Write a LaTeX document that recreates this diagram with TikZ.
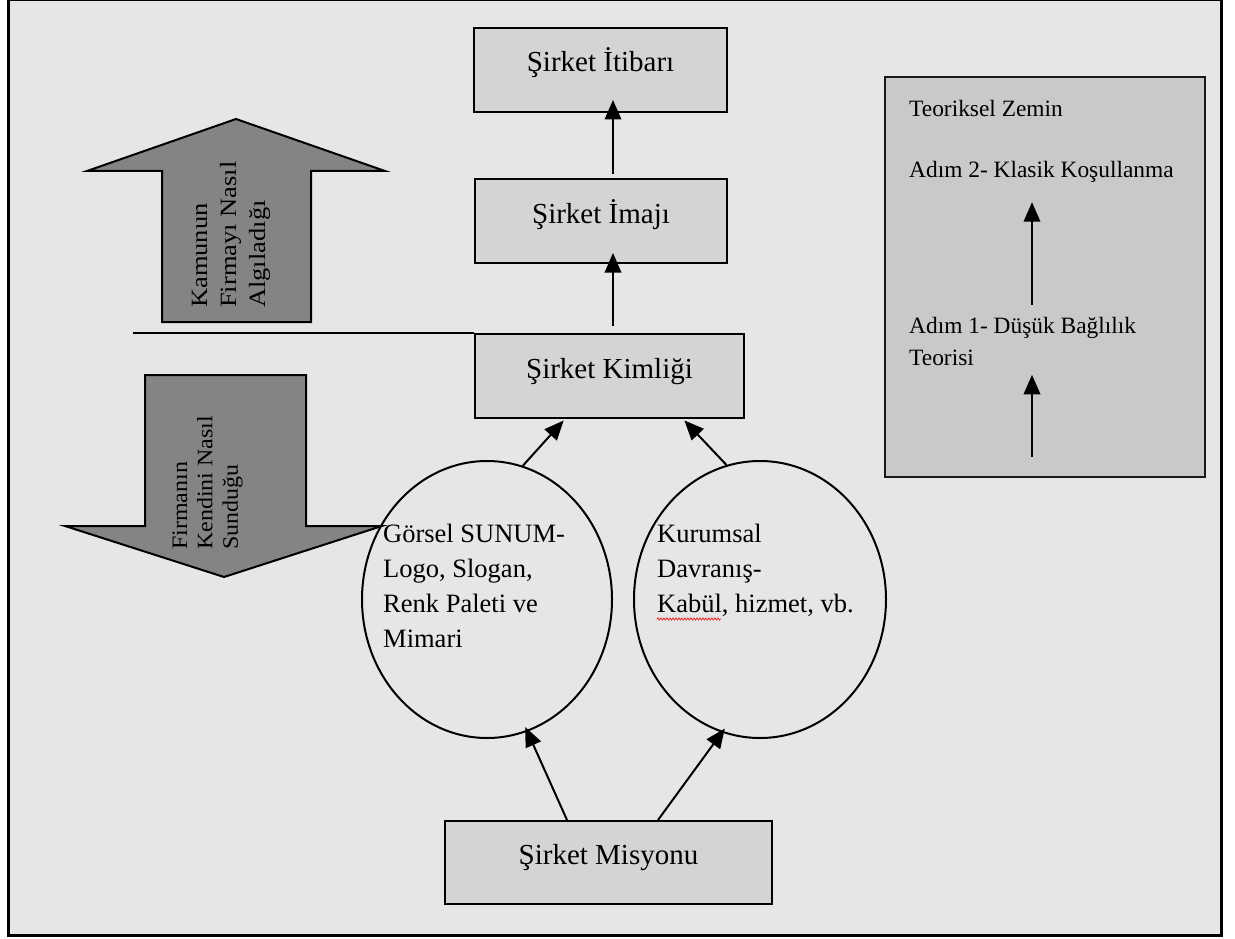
\documentclass[tikz,border=0pt]{standalone}
\usepackage{fontspec}
\setmainfont{Liberation Serif}
\usepackage{graphicx}
\usetikzlibrary{arrows.meta,shapes.geometric,calc,decorations.pathmorphing}

\definecolor{paper}{RGB}{230,230,230}
\definecolor{boxgray}{RGB}{212,212,212}
\definecolor{panelgray}{RGB}{201,201,201}
\definecolor{bigarrow}{RGB}{132,132,132}
\definecolor{spellred}{RGB}{225,40,40}

\begin{document}
\begin{tikzpicture}[x=1pt,y=-1pt,
  stagebox/.style={draw=black, line width=2pt, fill=boxgray, inner sep=0pt,
    text height=20pt, text depth=16pt, font=\fontsize{29}{35}\selectfont},
  oval/.style={draw=black, line width=2pt, ellipse, inner sep=0pt},
  link/.style={draw=black, line width=2pt, -{Triangle[width=16.5pt,length=19.5pt]}},
  blockarrow/.style={draw=black, line width=2pt, fill=bigarrow, line join=miter},
  label/.style={anchor=base west, inner sep=0pt},
  ovaltext/.style={label, font=\fontsize{26.5}{35}\selectfont},
  paneltext/.style={label, font=\fontsize{23.4}{32}\selectfont}
]
\useasboundingbox (0,0) rectangle (1235,939);
\fill[white] (0,0) rectangle (1235,939);

% framed background
\fill[paper] (8.5,0) rectangle (1221.5,935);
\draw[line width=3pt] (8.5,-0.5) rectangle (1221.5,935);

% broad arrows on the left
\draw[blockarrow] (236,119) -- (385,171) -- (311,171) -- (311,322) -- (162,322)
  -- (162,171) -- (87,171) -- cycle;
\draw[blockarrow] (145,375) -- (306,375) -- (306,526) -- (382,526) -- (224,577)
  -- (65,526) -- (145,526) -- cycle;

\node[rotate=90, label] (perceive) at (207,308)
  {\fontsize{26.5}{33}\selectfont\scalebox{1}[0.88]{\begin{tabular}[t]{@{}l@{}}Kamunun\\Firmayı Nasıl\\Algıladığı\end{tabular}}};
\node[rotate=90, label] (present) at (187,550)
  {\fontsize{24}{27.7}\selectfont\scalebox{1}[0.92]{\begin{tabular}[t]{@{}l@{}}Firmanın\\Kendini Nasıl\\Sunduğu\end{tabular}}};

% stages
\node[stagebox, minimum width=253pt, minimum height=84pt] (itibar) at (600.5,70) {Şirket İtibarı};
\node[stagebox, minimum width=252pt, minimum height=84pt] (imaj) at (601,221) {Şirket İmajı};
\node[stagebox, minimum width=269pt, minimum height=84pt] (kimlik) at (609.5,376) {Şirket Kimliği};
\node[stagebox, minimum width=327pt, minimum height=83pt] (misyon) at (608.5,862.5) {Şirket Misyonu};

% dividing line
\coordinate (divstart) at (133,333);
\draw[line width=2pt] (divstart) -- (divstart -| kimlik.north west);

% the two components
\node[oval, minimum width=250pt, minimum height=277pt] (visual) at (487,599.5) {};
\node[oval, minimum width=252pt, minimum height=277pt] (conduct) at (760,599.5) {};
\node[ovaltext] (visualtext) at (383,542)
  {\begin{tabular}[t]{@{}l@{}}Görsel SUNUM-\\Logo, Slogan,\\Renk Paleti ve\\Mimari\end{tabular}};
\node[ovaltext] (conducttext) at (657,542)
  {\begin{tabular}[t]{@{}l@{}}Kurumsal\\Davranış-\\Kabül, hizmet, vb.\end{tabular}};
\draw[spellred, line width=0.8pt, decorate,
  decoration={snake, amplitude=1pt, segment length=3pt}] (657,619) -- (721,619);

% connectors
\coordinate (axis) at (613,0);
\draw[link, shorten <=4pt, shorten >=-13pt] (imaj.north -| axis) -- (itibar.south -| axis);
\draw[link, shorten <=7pt, shorten >=-11pt] (kimlik.north -| axis) -- (imaj.south -| axis);
\draw[link, shorten >=2pt] (visual.75) -- (kimlik.south -| 565,0);
\draw[link, shorten >=2pt] (conduct.104) -- (kimlik.south -| 683,0);
\draw[link, shorten >=-5pt] (misyon.north -| 567,0) -- (visual.-73);
\draw[link, shorten >=-5pt] (misyon.north -| 658,0) -- (conduct.-106);

% theoretical background panel
\node[draw=black!90, line width=2pt, fill=panelgray, minimum width=320pt,
  minimum height=400pt, inner sep=0pt] (panel) at (1045,277) {};
\node[paneltext] (pantitle) at (909,117) {Teoriksel Zemin};
\node[paneltext] (step2) at (909,178) {Adım 2- Klasik Koşullanma};
\node[paneltext] (step1) at (909,333)
  {\begin{tabular}[t]{@{}l@{}}Adım 1- Düşük Bağlılık\\Teorisi\end{tabular}};
\coordinate (paxis) at (1032,0);
\coordinate (pfoot) at (1032,457);
\draw[link] (pfoot) -- (step1.south -| paxis);
\draw[link, shorten <=5pt, shorten >=19pt] (step1.north -| paxis) -- (step2.south -| paxis);
\end{tikzpicture}
\end{document}
